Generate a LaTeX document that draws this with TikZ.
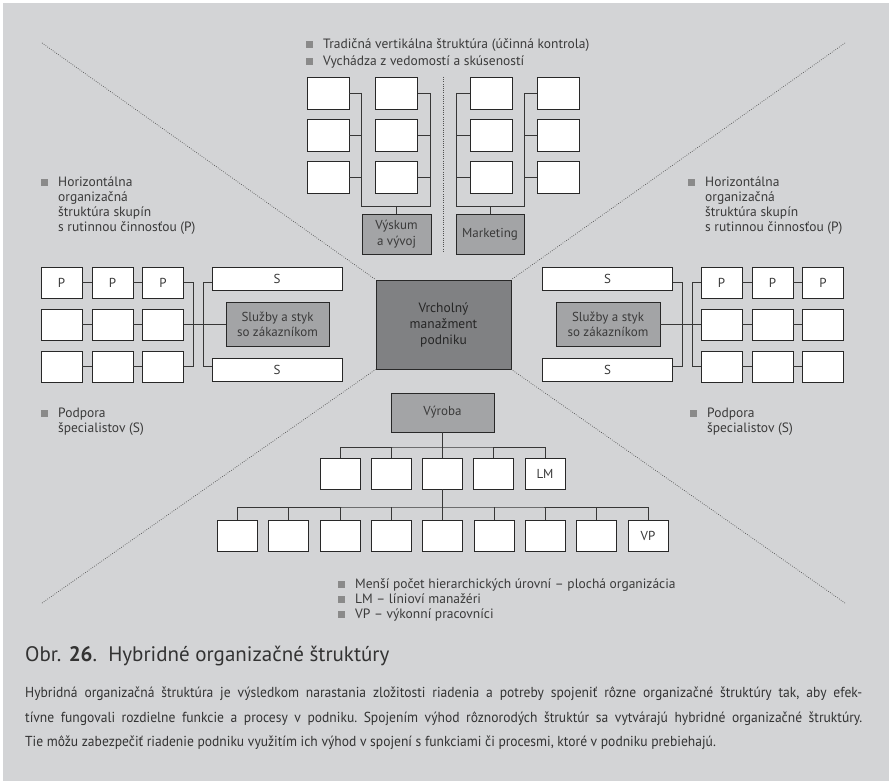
\documentclass[tikz,border=0pt]{standalone}
\usepackage{fontspec}
\setmainfont{PT Sans}
\newfontfamily\narrowfont[FakeStretch=0.935]{PT Sans}
\usetikzlibrary{calc}

\definecolor{panel}{RGB}{211,212,214}
\definecolor{ink}{RGB}{58,58,58}
\definecolor{boxline}{RGB}{40,40,40}
\definecolor{linegray}{RGB}{55,55,55}
\definecolor{midgray}{RGB}{163,164,166}
\definecolor{darkgray}{RGB}{128,129,131}
\definecolor{bulletgray}{RGB}{138,138,138}
\definecolor{dotgray}{RGB}{80,80,80}

\newcommand\bsq{\textcolor{bulletgray}{\rule[0.5pt]{7pt}{7pt}}\hspace{10pt}}
\newcommand\bind{\hspace*{17pt}}

\begin{document}
\begin{tikzpicture}[x=1pt,y=-1pt,
  every node/.style={text=ink, font=\fontsize{12.5}{15}\selectfont, inner sep=0pt},
  cell/.style={draw=boxline, fill=white, line width=0.9pt, minimum width=41pt, minimum height=31pt},
  tcell/.style={cell, minimum width=42pt, minimum height=32pt},
  wide/.style={cell, minimum width=130pt, minimum height=23pt},
  unit/.style={draw=boxline, fill=midgray, line width=0.9pt, align=center, font=\fontsize{13}{15.5}\selectfont},
  head/.style={draw=boxline, fill=darkgray, line width=0.9pt, align=center, minimum width=135pt, minimum height=89pt, text=black!85, font=\fontsize{13.5}{16}\selectfont},
  link/.style={draw=linegray, line width=0.9pt},
  dotline/.style={draw=dotgray, line width=0.7pt, dash pattern=on 0.7pt off 1.5pt},
  bullets/.style={align=left, anchor=north west, font=\fontsize{13.5}{15}\selectfont},
]
% panel
\fill[white] (0,0) rectangle (889,781);
\fill[panel] (3,3) rectangle (889,781);
\useasboundingbox (0,0) rectangle (889,781);

% top management
\node[head] (ceo) at (443.5,324.5) {Vrcholný\\manažment\\podniku};

% dotted sector borders
\coordinate (d1) at (42,43);
\coordinate (d2) at (845,43);
\coordinate (d3) at (42,603);
\coordinate (d4) at (845,603);
\coordinate (v1) at (443,77);
\coordinate (v2) at (443,252);
\draw[dotline] (d1) -- (ceo.north west);
\draw[dotline] (d2) -- (ceo.north east);
\draw[dotline] (d3) -- (ceo.south west);
\draw[dotline] (d4) -- (ceo.south east);
\draw[dotline] (v1) -- (v2);

% top: research and development, marketing
\foreach \r/\y in {1/93,2/135.5,3/177.5} {
  \node[tcell] (a1\r) at (328,\y) {};
  \node[tcell] (a2\r) at (396.5,\y) {};
  \node[tcell] (b1\r) at (491,\y) {};
  \node[tcell] (b2\r) at (558.5,\y) {};
}
\node[unit, minimum width=69pt, minimum height=40pt] (vyskum) at (396.5,234) {Výskum\\a vývoj};
\node[unit, minimum width=68pt, minimum height=40pt] (mkt) at (490,234) {Marketing};

\coordinate (aj1) at (361,206);
\coordinate (aj2) at (430,206);
\coordinate (bj1) at (456,206);
\coordinate (bj2) at (524,206);
\foreach \r in {1,2,3} {
  \draw[link] (a1\r.east) -- (a1\r.east -| aj1);
  \draw[link] (a2\r.east) -- (a2\r.east -| aj2);
  \draw[link] (b1\r.west) -- (b1\r.west -| bj1);
  \draw[link] (b2\r.west) -- (b2\r.west -| bj2);
}
\draw[link] (a11.east -| aj1) -- (aj1) -- (aj2) -- (a21.east -| aj2);
\draw[link] (b11.west -| bj1) -- (bj1) -- (bj2) -- (b21.west -| bj2);
\draw[link] (vyskum.north) -- (vyskum.north |- aj1);
\draw[link] (mkt.north) -- (mkt.north |- bj1);

% sides: routine groups and specialists
\foreach \r/\y in {1/282.5,2/324.5,3/366.5} {
  \node[cell] (l1\r) at (61.5,\y) {};
  \node[cell] (l2\r) at (112.5,\y) {};
  \node[cell] (l3\r) at (163,\y) {};
  \node[cell] (r1\r) at (721.5,\y) {};
  \node[cell] (r2\r) at (772.5,\y) {};
  \node[cell] (r3\r) at (823,\y) {};
  \draw[link] (l1\r.east) -- (l2\r.west);
  \draw[link] (l2\r.east) -- (l3\r.west);
  \draw[link] (r1\r.east) -- (r2\r.west);
  \draw[link] (r2\r.east) -- (r3\r.west);
}
\foreach \n in {l11,l21,l31,r11,r21,r31} { \node[font=\fontsize{13}{15}\selectfont] at (\n) {P}; }

\node[wide, font=\fontsize{13}{15}\selectfont] (ls1) at (277,278.5) {S};
\node[wide, font=\fontsize{13}{15}\selectfont] (ls2) at (277,369.5) {S};
\node[unit, minimum width=103pt, minimum height=44pt] (lsv) at (277.5,324.5) {Služby a styk\\so zákazníkom};
\draw[link] (l31.east) -- ++(9,0) |- (l33.east);
\draw[link] (ls1.west |- l31) -- ++(-8,0) |- (ls2.west |- l33);
\draw[link] (l32.east) -- (lsv.west);

\node[wide, font=\fontsize{13}{15}\selectfont] (rs1) at (607.5,278.5) {S};
\node[wide, font=\fontsize{13}{15}\selectfont] (rs2) at (607.5,369.5) {S};
\node[unit, minimum width=104pt, minimum height=44pt] (rsv) at (608,324.5) {Služby a styk\\so zákazníkom};
\draw[link] (rs1.east |- r11) -- ++(9,0) |- (rs2.east |- r13);
\draw[link] (r11.west) -- ++(-8,0) |- (r13.west);
\draw[link] (rsv.east) -- (r12.west);

% bottom: production
\node[unit, minimum width=103pt, minimum height=39pt] (vyroba) at (442.5,412.5) {Výroba};
\foreach \i/\x in {1/340,2/391.5,3/442.5,4/493.5,5/545} {
  \node[cell, minimum width=40pt] (m\i) at (\x,473.5) {};
}
\node[font=\fontsize{13}{15}\selectfont] at (m5) {LM};
\foreach \i/\x in {1/237,2/288.5,3/340,4/391,5/442.5,6/494,7/545,8/596.5,9/648} {
  \node[cell, minimum width=40pt] (q\i) at (\x,536) {};
}
\node[font=\fontsize{13}{15}\selectfont] at (q9) {VP};
\coordinate (hm) at (442.5,447);
\coordinate (hb) at (442.5,507);
\draw[link] (vyroba.south) -- (m3.north);
\draw[link] (m1.north) |- (hm) -| (m5.north);
\foreach \i in {2,4} { \draw[link] (m\i.north) -- (m\i.north |- hm); }
\draw[link] (m3.south) -- (q5.north);
\draw[link] (q1.north) |- (hb) -| (q9.north);
\foreach \i in {2,3,4,6,7,8} { \draw[link] (q\i.north) -- (q\i.north |- hb); }

% notes
\node[bullets, font=\fontsize{13.5}{17.5}\selectfont] (nt) at (306,38)
  {\bsq Tradičná vertikálna štruktúra (účinná kontrola)\\\bsq Vychádza z vedomostí a skúseností};
\node[bullets] (nl1) at (41,177)
  {\bsq Horizontálna\\\bind organizačná\\\bind štruktúra skupín\\\bind s rutinnou činnosťou (P)};
\node[bullets] (nr1) at (688,177)
  {\bsq Horizontálna\\\bind organizačná\\\bind štruktúra skupín\\\bind s rutinnou činnosťou (P)};
\node[bullets] (nl2) at (41,408)
  {\bsq Podpora\\\bind špecialistov (S)};
\node[bullets] (nr2) at (690,408)
  {\bsq Podpora\\\bind špecialistov (S)};
\node[bullets] (nb) at (338,578)
  {\bsq Menší počet hierarchických úrovní – plochá organizácia\\\bsq LM – líniov\'{\i} manažéri\\\bsq VP – výkonní pracovníci};

% caption
\node[anchor=west, font=\fontsize{21}{24}\selectfont, text=black!80] (cap) at (25,656)
  {Obr. \textbf{26}.\ \ Hybridné organizačné štruktúry};
\node[anchor=north west, text width=837pt, align=justify, font=\narrowfont\fontsize{14.5}{24.5}\selectfont\frenchspacing, text=black!80] (para) at (25,687)
  {Hybridná organizačná štruktúra je výsledkom narastania zložitosti riadenia a potreby spojeniť rôzne organizačné štruktúry tak, aby efek-\linebreak
   tívne fungovali rozdielne funkcie a procesy v~podniku. Spojením výhod rôznorodých štruktúr sa vytvárajú hybridné organizačné štruktúry.\linebreak
   Tie môžu zabezpečiť riadenie podniku využitím ich výhod v~spojení s~funkciami či procesmi, ktoré v~podniku prebiehajú.};
\end{tikzpicture}
\end{document}
